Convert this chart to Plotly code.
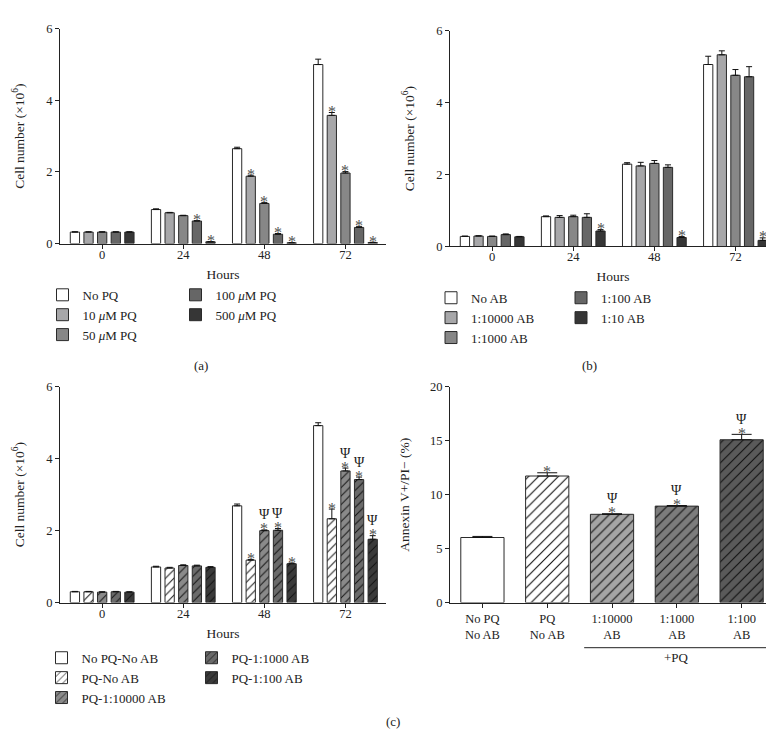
import plotly.graph_objects as go

# ---------------- data ----------------
hours = ["0", "24", "48", "72"]

a_names = ["No PQ", "10 <i>μ</i>M PQ", "50 <i>μ</i>M PQ", "100 <i>μ</i>M PQ", "500 <i>μ</i>M PQ"]
a_vals = [
    [0.32, 0.95, 2.65, 5.00],
    [0.32, 0.86, 1.88, 3.58],
    [0.32, 0.78, 1.12, 1.97],
    [0.32, 0.63, 0.26, 0.45],
    [0.32, 0.05, 0.02, 0.03],
]
a_err = [
    [0.01, 0.02, 0.04, 0.15],
    [0.01, 0.01, 0.03, 0.08],
    [0.01, 0.01, 0.03, 0.04],
    [0.01, 0.01, 0.02, 0.03],
    [0.01, 0.005, 0.005, 0.005],
]
a_star = [
    [0, 0, 0, 0],
    [0, 0, 1, 1],
    [0, 0, 1, 1],
    [0, 1, 1, 1],
    [0, 1, 1, 1],
]

b_names = ["No AB", "1:10000 AB", "1:1000 AB", "1:100 AB", "1:10 AB"]
b_vals = [
    [0.28, 0.83, 2.29, 5.06],
    [0.29, 0.81, 2.24, 5.33],
    [0.28, 0.83, 2.31, 4.76],
    [0.33, 0.81, 2.20, 4.72],
    [0.27, 0.43, 0.25, 0.17],
]
b_err = [
    [0.01, 0.02, 0.04, 0.23],
    [0.01, 0.05, 0.10, 0.11],
    [0.01, 0.04, 0.08, 0.16],
    [0.02, 0.10, 0.07, 0.28],
    [0.01, 0.04, 0.03, 0.07],
]
b_star = [
    [0, 0, 0, 0],
    [0, 0, 0, 0],
    [0, 0, 0, 0],
    [0, 0, 0, 0],
    [0, 1, 1, 1],
]

c_names = ["No PQ-No AB", "PQ-No AB", "PQ-1:10000 AB", "PQ-1:1000 AB", "PQ-1:100 AB"]
c_vals = [
    [0.30, 0.99, 2.69, 4.92],
    [0.30, 0.96, 1.18, 2.33],
    [0.29, 1.03, 2.00, 3.66],
    [0.30, 1.02, 2.01, 3.42],
    [0.29, 0.98, 1.08, 1.76],
]
c_err = [
    [0.01, 0.02, 0.05, 0.08],
    [0.01, 0.02, 0.02, 0.27],
    [0.01, 0.02, 0.02, 0.08],
    [0.01, 0.02, 0.05, 0.07],
    [0.01, 0.02, 0.02, 0.10],
]
c_star = [
    [0, 0, 0, 0],
    [0, 0, 1, 1],
    [0, 0, 1, 1],
    [0, 0, 1, 1],
    [0, 0, 1, 1],
]
c_psi = [
    [0, 0, 0, 0],
    [0, 0, 0, 0],
    [0, 0, 1, 1],
    [0, 0, 1, 1],
    [0, 0, 0, 1],
]

d_cats = ["No PQ<br>No AB", "PQ<br>No AB", "1:10000<br>AB", "1:1000<br>AB", "1:100<br>AB"]
d_vals = [6.03, 11.73, 8.18, 8.94, 15.09]
d_err = [0.10, 0.30, 0.05, 0.05, 0.50]
d_star = [0, 1, 1, 1, 1]
d_psi = [0, 0, 1, 1, 1]
d_pq_group = [2, 3, 4]  # categories under "+PQ"

# ---------------- styles ----------------
W, H = 774, 734
FONT = "Liberation Serif"
TXT = "#222222"
grays = ["#ffffff", "#a7a7a9", "#878787", "#666666", "#363636"]
c_cols = ["#ffffff", "#ffffff", "#8a8a8a", "#6a6a6a", "#3a3a3a"]
c_hatch = [False, True, True, True, True]
d_cols = ["#ffffff", "#ffffff", "#a5a5a5", "#7c7c7c", "#5a5a5a"]
d_hatch = [False, True, True, True, True]
EDGE = "#2a2a2a"
BARGAP, GROUPGAP = 0.16, 0.32
NSER = 5
STAR_FONT = dict(family=FONT, size=16, color="#505050")
PSI_FONT = dict(family=FONT, size=14, color="#222222")


def px(x):
    return x / W


def py(y):
    return 1 - y / H


def pattern(hatch, col, size):
    if hatch:
        return dict(shape="/", size=size, solidity=0.16, fgcolor="#111111", bgcolor=col, fillmode="replace")
    return dict(shape="")


def offset(k):
    slot = (1 - BARGAP) / NSER
    return -(1 - BARGAP) / 2 + slot * (k + 0.5)


fig = go.Figure()
annotations = []
xs = list(range(len(hours)))


def add_marks(x, top, xa, ya, star, psi):
    if star:
        annotations.append(dict(x=x, y=top, xref=xa, yref=ya, text="*", showarrow=False,
                                yanchor="middle", yshift=1, font=STAR_FONT))
    if psi:
        annotations.append(dict(x=x, y=top, xref=xa, yref=ya, text="Ψ", showarrow=False,
                                yanchor="middle", yshift=15, font=PSI_FONT))


def add_group_panel(names, vals, errs, cols, hatches, xa, ya, legs, stars, psis=None):
    for k in range(NSER):
        fig.add_trace(go.Bar(
            x=xs, y=vals[k], name=names[k],
            xaxis=xa, yaxis=ya,
            legend=legs[0] if k < 3 else legs[1],
            marker=dict(color=cols[k], line=dict(color=EDGE, width=1),
                        pattern=pattern(hatches[k], cols[k], 6)),
            error_y=dict(type="data", array=errs[k], arrayminus=[0] * len(xs), symmetric=False,
                         color="#111111", thickness=1, width=3),
        ))
        for i in xs:
            add_marks(i + offset(k), vals[k][i] + errs[k][i], xa, ya,
                      stars[k][i], psis[k][i] if psis else 0)


add_group_panel(a_names, a_vals, a_err, grays, [False] * 5, "x", "y", ["legend", "legend2"], a_star)
add_group_panel(b_names, b_vals, b_err, grays, [False] * 5, "x2", "y2", ["legend3", "legend4"], b_star)
add_group_panel(c_names, c_vals, c_err, c_cols, c_hatch, "x3", "y3", ["legend5", "legend6"], c_star, c_psi)

# panel d
dxs = list(range(len(d_cats)))
for i in dxs:
    fig.add_trace(go.Bar(
        x=[dxs[i]], y=[d_vals[i]], xaxis="x4", yaxis="y4", showlegend=False, width=0.667,
        offsetgroup="d", name=d_cats[i].replace("<br>", " "),
        marker=dict(color=d_cols[i], line=dict(color=EDGE, width=1),
                    pattern=pattern(d_hatch[i], d_cols[i], 7)),
        error_y=dict(type="data", array=[d_err[i]], arrayminus=[0], symmetric=False,
                     color="#111111", thickness=1, width=10),
    ))
    add_marks(dxs[i], d_vals[i] + d_err[i], "x4", "y4", d_star[i], d_psi[i])

# +PQ bracket under panel d
shapes = [dict(type="line", xref="x4", yref="paper",
               x0=d_pq_group[0] - 0.43, x1=d_pq_group[-1] + 0.38,
               y0=py(645), y1=py(645), line=dict(color=TXT, width=1))]
annotations.append(dict(x=d_pq_group[len(d_pq_group) // 2], y=py(655), xref="x4", yref="paper",
                        text="+PQ", showarrow=False, xanchor="center", yanchor="middle",
                        font=dict(family=FONT, size=13, color=TXT)))

# panel labels
for lab, x, y in [("(a)", 193, 357), ("(b)", 581, 357), ("(c)", 385, 720)]:
    annotations.append(dict(x=px(x), y=py(y), xref="paper", yref="paper", text=lab,
                            showarrow=False, xanchor="center", yanchor="middle",
                            font=dict(family=FONT, size=13, color=TXT)))

axis_common = dict(showline=True, linecolor=TXT, linewidth=1, ticks="outside", ticklen=4,
                   tickcolor=TXT, showgrid=False, zeroline=False,
                   tickfont=dict(family=FONT, size=12.5, color=TXT))

XRANGE = [-0.52, 3.5]
panels = {
    "a": dict(x=(52, 378), y=(14, 233)),
    "b": dict(x=(442, 768), y=(16, 236)),
    "c": dict(x=(52, 378), y=(379, 599)),
    "d": dict(x=(442, 768), y=(379, 599)),
}

layout = dict(
    width=W, height=H, margin=dict(l=0, r=0, t=0, b=0),
    plot_bgcolor="white", paper_bgcolor="white",
    barmode="group", bargap=BARGAP, bargroupgap=GROUPGAP,
    font=dict(family=FONT, size=12, color=TXT),
    annotations=annotations, shapes=shapes,
)

TITLE_FONT = dict(family=FONT, size=13.5, color=TXT)
ytitle = "Cell number (×10<sup>6</sup>)"
for idx, key in enumerate(["a", "b", "c", "d"]):
    p = panels[key]
    sfx = "" if idx == 0 else str(idx + 1)
    xd = [px(p["x"][0]), px(p["x"][1])]
    yd = [py(p["y"][1]), py(p["y"][0])]
    if key == "d":
        xa = dict(axis_common, domain=xd, anchor="y4", range=[-0.5, 4.53],
                  tickvals=dxs, ticktext=d_cats)
        ya = dict(axis_common, domain=yd, anchor="x4", range=[0, 20], tickvals=[0, 5, 10, 15, 20],
                  title=dict(text="Annexin V+/PI− (%)", standoff=17, font=TITLE_FONT))
    else:
        xa = dict(axis_common, domain=xd, anchor="y" + sfx, range=XRANGE, tickvals=xs, ticktext=hours,
                  ticklabelstandoff=-5,
                  title=dict(text="Hours", standoff=8, font=TITLE_FONT))
        ya = dict(axis_common, domain=yd, anchor="x" + sfx, range=[0, 6], tickvals=[0, 2, 4, 6],
                  title=dict(text=ytitle, standoff=18, font=TITLE_FONT))
    layout["xaxis" + sfx] = xa
    layout["yaxis" + sfx] = ya

# legends: (anchor x, first-row centre y)
leg_pos = {
    "legend": (34.5, 294), "legend2": (167.5, 294),
    "legend3": (423, 297), "legend4": (553, 297),
    "legend5": (33.5, 664), "legend6": (183.5, 664),
}
for name, (lx, ly) in leg_pos.items():
    layout[name] = dict(x=px(lx), y=py(ly - 24), xanchor="left", yanchor="top",
                        bgcolor="rgba(0,0,0,0)", borderwidth=0, tracegroupgap=0,
                        font=dict(family=FONT, size=13, color=TXT))

fig.update_layout(**layout)
fig.write_html("out.html")
